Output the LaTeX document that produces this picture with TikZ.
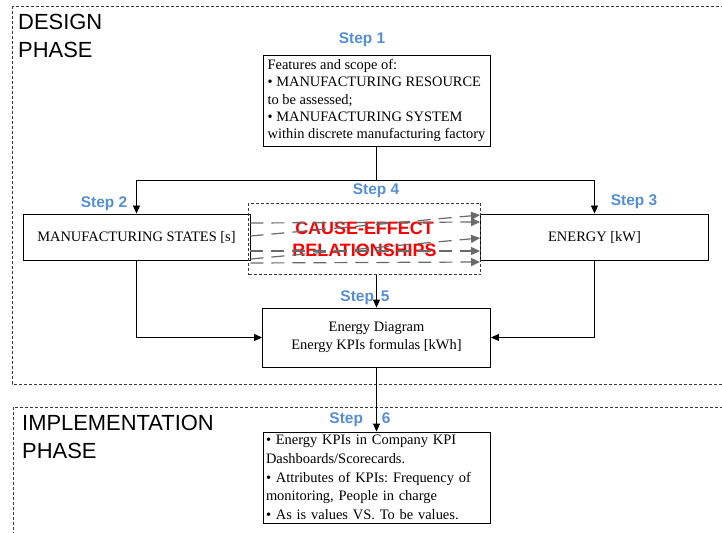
\documentclass[tikz,border=0pt]{standalone}
\usepackage{fontspec}
\setmainfont{Liberation Serif}
\setsansfont{Liberation Sans}
\usetikzlibrary{arrows.meta}
\definecolor{stepblue}{HTML}{558ED5}
\definecolor{arrowgray}{HTML}{6A6A6A}
\definecolor{framegray}{HTML}{3A3A3A}

\tikzset{
  box/.style={draw, line width=0.9bp, minimum width=227bp, inner sep=3bp, font=\fontsize{14.5}{18}\selectfont},
  steplabel/.style={text=stepblue, font=\sffamily\bfseries\fontsize{15.5}{18}\selectfont},
  phase/.style={draw=framegray, dash pattern=on 3bp off 2bp, line width=0.8bp},
  phaselabel/.style={anchor=north west, align=left, inner sep=0pt, font=\sffamily\fontsize{22}{28}\selectfont},
  cause/.style={draw=arrowgray, line width=1.2bp, dash pattern=on 13bp off 8bp, -{Triangle[length=9bp,width=8bp]}},
  link/.style={line width=0.9bp},
}

\begin{document}
\frenchspacing
\begin{tikzpicture}[x=1bp, y=-1bp, >={Triangle[length=8bp,width=7bp]}]
\clip (0,0) rectangle (722,533);
% the two phases
\draw[phase] (12,6) rectangle (740,384);
\draw[phase] (13,407) rectangle (740,560);
\node[phaselabel] (design) at (18,14) {DESIGN\\PHASE};
\node[phaselabel] (impl) at (22,415) {IMPLEMENTATION\\PHASE};

% steps
\node[box, minimum height=91bp, align=left, font=\fontsize{14.5}{17.4}\selectfont] (s1) at (376.5,100.5)
  {Features and scope of:\\• MANUFACTURING RESOURCE\\to be assessed;\\• MANUFACTURING SYSTEM\\within discrete manufacturing factory};
\node[box, minimum height=46bp] (s2) at (136.5,237) {MANUFACTURING STATES [s]};
\node[box, minimum width=228bp, minimum height=46bp] (s3) at (594.5,237) {ENERGY [kW]};
\node[draw=framegray, dash pattern=on 3bp off 2bp, line width=1bp, minimum width=232bp, minimum height=71bp, align=center,
  text=red, font=\sffamily\bfseries\fontsize{18}{22}\selectfont] (s4) at (364.5,239) {CAUSE-EFFECT\\RELATIONSHIPS};
\node[box, minimum width=228bp, minimum height=59bp, align=center] (s5) at (376.5,337.5)
  {Energy Diagram\\Energy KPIs formulas [kWh]};
\node[box, minimum height=91bp, text width=221bp, align=left, font=\fontsize{14.5}{18.7}\selectfont] (s6) at (376.5,477.5)
  {• Energy KPIs in Company KPI\\Dashboards/Scorecards.\\• Attributes of KPIs: Frequency of\\monitoring, People in charge\\• As is values VS. To be values.};

\node[steplabel] (l1) at (362,40) {Step 1};
\node[steplabel] (l2) at (104,204) {Step 2};
\node[steplabel] (l3) at (634,202) {Step 3};
\node[steplabel] (l4) at (376,191) {Step 4};
\node[steplabel] (l5) at (365,298) {Step\hspace{7bp}5};
\node[steplabel] (l6) at (360,420) {Step\hspace{19bp}6};

% connectors
\coordinate (split) at (376.5,180.5);
\draw[link] (s1.south) -- (split);
\draw[link,->] (split) -| (s2.north);
\draw[link,->] (split) -| (s3.north);
\foreach \ya/\yb in {223/222, 236/215, 251/251, 259/238, 263/262}
  \draw[cause] (s2.east |- 0,\ya) -- (s3.west |- 0,\yb);
\draw[link,->] (s4.south -| s5.north) -- (s5.north);
\draw[link,->] (s2.south) |- (s5.west);
\draw[link,->] (s3.south) |- (s5.east);
\draw[link,->] (s5.south) -- (s6.north);
\end{tikzpicture}
\end{document}
